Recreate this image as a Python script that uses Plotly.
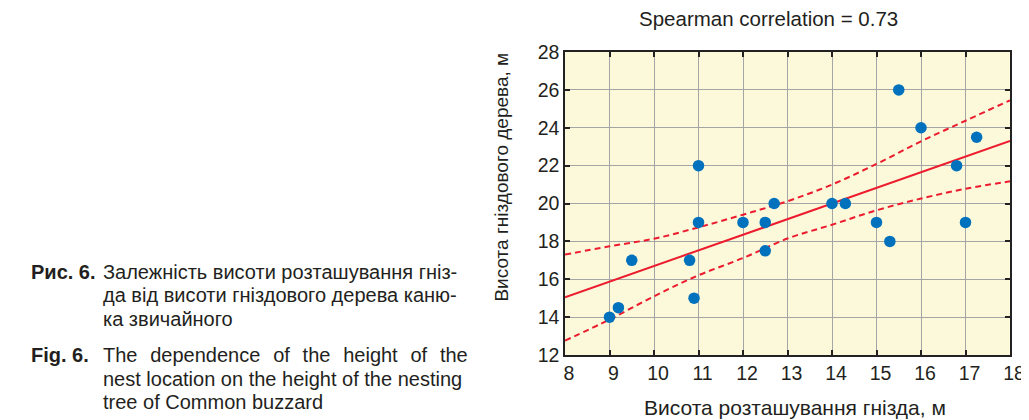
import plotly.graph_objects as go

# ---- data ----
nest_height = [9.0, 9.2, 9.5, 10.8, 10.9, 11.0, 11.0, 12.0, 12.5, 12.5,
               12.7, 14.0, 14.3, 15.0, 15.3, 15.5, 16.0, 16.8, 17.0, 17.25]
tree_height = [14.0, 14.5, 17.0, 17.0, 15.0, 22.0, 19.0, 19.0, 19.0, 17.5,
               20.0, 20.0, 20.0, 19.0, 18.0, 26.0, 24.0, 22.0, 19.0, 23.5]

fit_x = [8, 18]
fit_y = [15.05, 23.3]

band_x = [8, 9, 10, 11, 12, 13, 14, 15, 16, 17, 18]
band_upper = [17.30, 17.74, 18.14, 18.74, 19.41, 20.12, 21.0, 22.09, 23.28, 24.37, 25.45]
band_lower = [12.76, 13.87, 15.10, 16.21, 17.12, 18.15, 18.88, 19.64, 20.26, 20.78, 21.17]

x_ticks = list(range(8, 19))
y_ticks = list(range(12, 29, 2))

title_text = "Spearman correlation = 0.73"
x_title = "Висота розташування гнізда, м"
y_title = "Висота гніздового дерева, м"

G = " \u00a0\u200a"  # widened gap for the justified caption line
caption_lines = [
    ("<b>Рис. 6.</b>", "Залежність висоти розташування гніз-"),
    ("", "да від висоти гніздового дерева каню-"),
    ("", "ка звичайного"),
    ("<b>Fig. 6.</b>", G.join(["The", "dependence", "of", "the", "height", "of", "the"])),
    ("", "nest location on the height of the nesting"),
    ("", "tree of Common buzzard"),
]
caption_baselines = [276.5, 300, 323.5, 360, 383.5, 407]

# ---- geometry ----
W, H = 1029, 420
L, R, T, B = 557, 16, 44, 73
PW, PH = W - L - R, H - T - B
FONT = "Liberation Sans, Arial, sans-serif"
RED = "#EC1C2E"
BLUE = "#0072BD"
TXT = "#231F20"
SHIFT = 6  # annotation text renders a bit below its anchor centre


def px(xp):
    return (xp - L) / PW


def py(yp):
    return (H - B - yp) / PH


fig = go.Figure()
fig.add_trace(go.Scatter(x=band_x, y=band_upper, mode="lines", line_shape="spline",
                         line=dict(color=RED, width=2, dash="6px,4px"), hoverinfo="skip"))
fig.add_trace(go.Scatter(x=band_x, y=band_lower, mode="lines", line_shape="spline",
                         line=dict(color=RED, width=2, dash="6px,4px"), hoverinfo="skip"))
fig.add_trace(go.Scatter(x=fit_x, y=fit_y, mode="lines",
                         line=dict(color=RED, width=2), hoverinfo="skip"))
fig.add_trace(go.Scatter(x=nest_height, y=tree_height, mode="markers",
                         marker=dict(color=BLUE, size=11.5, line=dict(width=0))))

axis_common = dict(
    showline=True, linecolor="#222", linewidth=1.5, mirror="ticks",
    ticks="inside", ticklen=5, tickwidth=1.5, tickcolor="#222",
    showgrid=True, gridcolor="#A5A5A5", gridwidth=1, zeroline=False,
    tickfont=dict(family=FONT, size=19.5, color=TXT),
)
fig.update_xaxes(range=[8, 18], tickvals=x_ticks, ticktext=[str(v) for v in x_ticks],
                 ticklabelshift=4, **axis_common)
fig.update_yaxes(range=[12, 28], tickvals=y_ticks, ticktext=[str(v) for v in y_ticks],
                 **axis_common)

annotations = [
    dict(text=title_text, x=px(766), y=py(17 - SHIFT), xanchor="center", yanchor="middle",
         font=dict(family=FONT, size=20.5, color=TXT)),
    dict(text=x_title, x=px(793), y=py(405 - SHIFT), xanchor="center", yanchor="middle",
         font=dict(family=FONT, size=21, color=TXT)),
    dict(text=y_title, x=px(497 - SHIFT), y=py(169), xanchor="center", yanchor="middle",
         textangle=-90, font=dict(family=FONT, size=19, color=TXT)),
]
for (lbl, body), base in zip(caption_lines, caption_baselines):
    yc = py(base - 7 - SHIFT)
    if lbl:
        annotations.append(dict(text=lbl, x=px(8), y=yc, xanchor="left", yanchor="middle",
                                font=dict(family=FONT, size=20, color=TXT)))
    annotations.append(dict(text=body, x=px(82), y=yc, xanchor="left", yanchor="middle",
                            font=dict(family=FONT, size=20, color=TXT)))
for a in annotations:
    a.update(xref="paper", yref="paper", showarrow=False)

fig.update_layout(
    width=W, height=H, margin=dict(l=L, r=R, t=T, b=B, pad=0),
    paper_bgcolor="white", plot_bgcolor="#FCF8DA",
    showlegend=False, annotations=annotations,
    font=dict(family=FONT, color=TXT),
)

fig.write_html("out.html")
